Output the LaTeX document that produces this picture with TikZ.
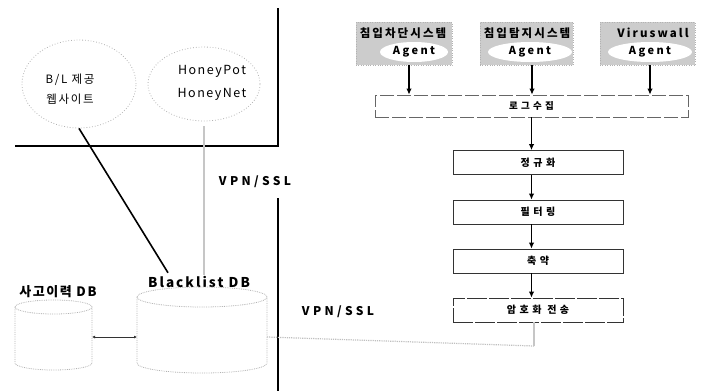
\documentclass[tikz,border=0pt]{standalone}
\usepackage{fontspec}
\setmainfont{Noto Sans CJK KR}
\usetikzlibrary{shapes.geometric,arrows.meta}
\begin{document}
\begin{tikzpicture}[x=1pt,y=-1pt,
  wall/.style={line width=1.1pt,black},
  cloudshape/.style={ellipse,draw=gray!60,dotted,line width=0.8pt,inner sep=0pt},
  cloudtext/.style={font=\fontsize{11.5}{13}\selectfont\addfontfeature{LetterSpace=15}},
  vpn/.style={font=\fontsize{12}{14}\selectfont\bfseries\addfontfeature{LetterSpace=28}},
  agbox/.style={rectangle,fill=gray!40,draw=gray!60,dotted,inner sep=0pt,minimum width=96pt,minimum height=43pt},
  agtitle/.style={font=\fontsize{11.5}{13}\selectfont\bfseries\addfontfeature{LetterSpace=18}},
  agell/.style={ellipse,fill=white,inner sep=0pt,minimum height=20pt,font=\fontsize{11}{13}\selectfont\bfseries\addfontfeature{LetterSpace=22}},
  procbox/.style={rectangle,draw=black!80,line width=0.8pt,minimum width=170pt,minimum height=24pt,inner sep=0pt,font=\fontsize{10}{12}\selectfont\bfseries\addfontfeature{LetterSpace=35}},
  arr/.style={-{Latex[length=6pt,width=5.5pt]},line width=1.3pt,black},
  grayband/.style={line width=2.5pt,gray!45},
  graylink/.style={line width=1.2pt,gray!50,densely dotted}
]
\useasboundingbox (0,0) rectangle (708,391);

% walls
\coordinate (w1) at (278,8);
\coordinate (w2) at (278,146);
\coordinate (w3) at (15,146);
\coordinate (w4) at (278,198);
\coordinate (w5) at (278,391);
\draw[wall] (w1) -- (w2) -- (w3);
\draw[wall] (w4) -- (w5);

% clouds
\node[cloudshape,minimum width=114pt,minimum height=88pt] (cl1) at (79,84) {};
\node[cloudtext] (cl1a) at (70,80) {B/L 제공};
\node[cloudtext] (cl1b) at (70,99) {웹사이트};
\node[cloudshape,minimum width=112pt,minimum height=74pt] (cl2) at (204,84) {};
\node[cloudtext,font=\fontsize{12.5}{14}\selectfont\addfontfeature{LetterSpace=12}] (cl2a) at (212,71) {HoneyPot};
\node[cloudtext,font=\fontsize{12.5}{14}\selectfont\addfontfeature{LetterSpace=12}] (cl2b) at (212,94) {HoneyNet};

\node[vpn] (vpn1) at (255,182) {VPN/SSL};
\node[vpn] (vpn2) at (338,312) {VPN/SSL};

% databases
\node[font=\fontsize{13}{15}\selectfont\bfseries\addfontfeature{LetterSpace=12}] (hist) at (58,292) {사고이력 DB};
\node[font=\fontsize{13.5}{15}\selectfont\bfseries\addfontfeature{LetterSpace=15}] (bl) at (199,282) {Blacklist DB};

\coordinate (h1) at (15,307);
\coordinate (h2) at (92,307);
\coordinate (h4) at (15,363);
\draw[draw=gray!60,densely dotted,line width=0.8pt] (53.5,307) ellipse [x radius=38.5pt,y radius=7pt];
\draw[draw=gray!60,densely dotted,line width=0.8pt] (h1) -- (h4) arc[start angle=180,end angle=360,x radius=38.5pt,y radius=7pt] -- (h2);

\coordinate (b1) at (137,297);
\coordinate (b2) at (267,297);
\coordinate (b4) at (137,363);
\draw[draw=gray!60,densely dotted,line width=0.8pt] (202,297) ellipse [x radius=65pt,y radius=10pt];
\draw[draw=gray!60,densely dotted,line width=0.8pt] (b1) -- (b4) arc[start angle=180,end angle=360,x radius=65pt,y radius=10pt] -- (b2);

\coordinate (hr) at (92,337);
\coordinate (bll) at (137,337);
\coordinate (blr) at (267,337);
\draw[{Latex[length=3pt,width=3pt]}-{Latex[length=3pt,width=3pt]},line width=0.8pt,black!80] (hr) -- (bll);

% links left
\draw[line width=1.6pt,black] (cl1.south) -- (bl.north west -| 168,0);
\coordinate (hnTop) at (206,275);
\draw[grayband] ([yshift=-5pt]cl2.south) -- (cl2.south |- hnTop);

% agents
\node[agbox] (ag1) at (404,43.5) {};
\node[agbox,minimum width=93pt] (ag2) at (526.5,43.5) {};
\node[agbox,minimum width=95pt] (ag3) at (647.5,43.5) {};
\node[agtitle] (t1) at (403,33) {침입차단시스템};
\node[agtitle] (t2) at (527,33) {침입탐지시스템};
\node[agtitle] (t3) at (653,33) {Viruswall};
\node[agell,minimum width=68pt] (e1) at (414,52) {Agent};
\node[agell,minimum width=84pt] (e2) at (530,52) {Agent};
\node[agell,minimum width=84pt] (e3) at (650,52) {Agent};

% process
\node[procbox,draw=black!60,dash pattern=on 14pt off 3pt,minimum width=313pt,minimum height=22pt,font=\fontsize{9.5}{11}\selectfont\bfseries\addfontfeature{LetterSpace=35}] (log) at (531.5,106) {로그수집};
\node[procbox] (norm) at (538,162.5) {정규화};
\node[procbox] (filt) at (538,212) {필터링};
\node[procbox] (red) at (538,261) {축약};
\node[procbox,dash pattern=on 20pt off 2pt] (enc) at (538,310) {암호화 전송};

\draw[arr] ([xshift=5pt]ag1.south) -- ([xshift=5pt]ag1.south |- log.north);
\draw[arr] ([xshift=5.5pt]ag2.south) -- ([xshift=5.5pt]ag2.south |- log.north);
\draw[arr] ([xshift=2.5pt]ag3.south) -- ([xshift=2.5pt]ag3.south |- log.north);
\draw[arr] (log.south) -- (log.south |- norm.north);
\draw[arr] (norm.south -| log.south) -- (filt.north -| log.south);
\draw[arr] (filt.south -| log.south) -- (red.north -| log.south);
\draw[arr] (red.south -| log.south) -- (enc.north -| log.south);

% encrypted link to blacklist
\coordinate (elow) at (534,346);
\draw[graylink] (blr) -- (elow);
\draw[grayband,line width=2pt] (enc.south -| elow) -- (elow);
\end{tikzpicture}
\end{document}
